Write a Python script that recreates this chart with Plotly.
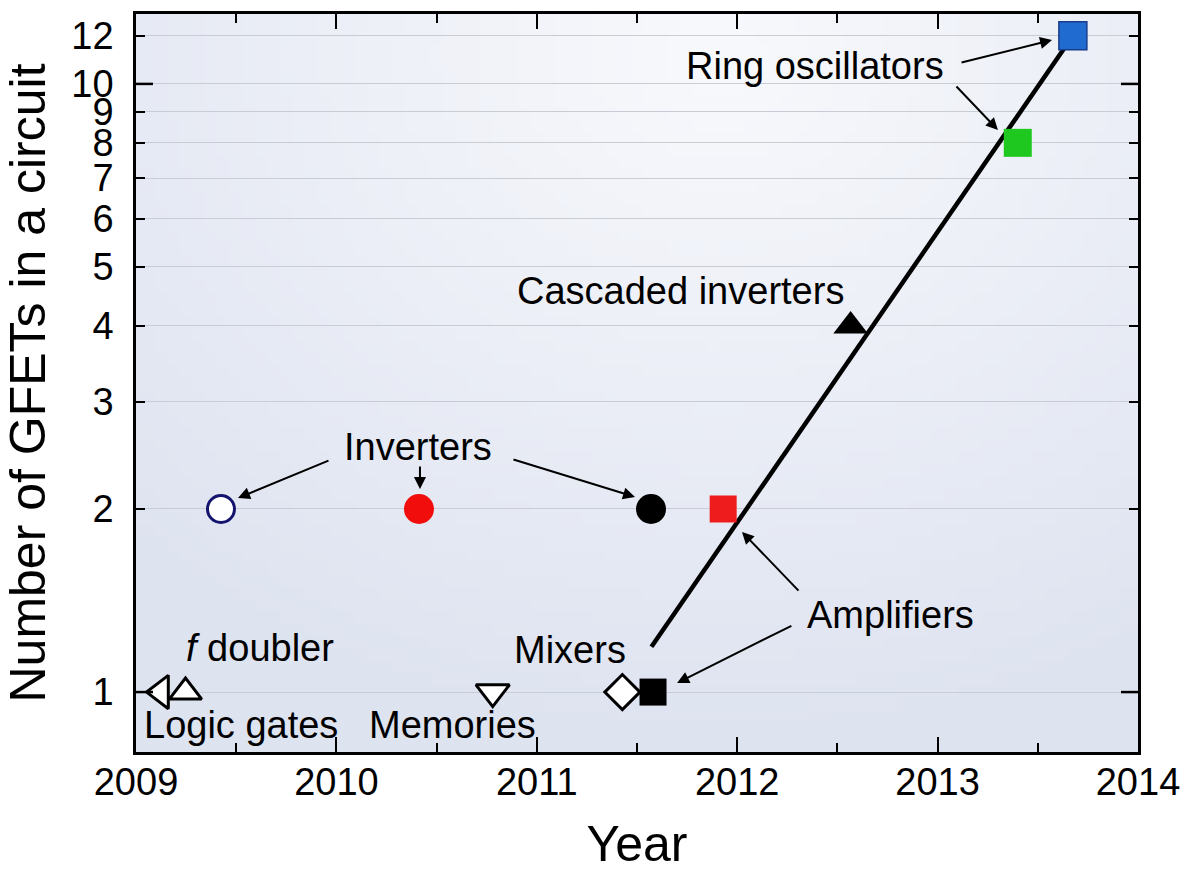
import base64
import struct
import zlib

import numpy as np
import plotly.graph_objects as go

# ---------------- data ----------------
devices = ["Logic gates", "f doubler", "Inverters", "Inverters", "Memories", "Mixers",
           "Inverters", "Amplifiers", "Amplifiers", "Cascaded inverters",
           "Ring oscillators", "Ring oscillators"]
years = [2009.125, 2009.247, 2009.424, 2010.412, 2010.78, 2011.427,
         2011.57, 2011.58, 2011.93, 2012.566, 2013.40, 2013.675]
gfets = [1, 1, 2, 2, 1, 1, 2, 1, 2, 4, 8, 12]

trend_years = [2011.572, 2013.675]
trend_gfets = [1.187, 12]

y_tickvals = [1, 2, 3, 4, 5, 6, 7, 8, 9, 10, 12]
x_tickvals = [2009, 2010, 2011, 2012, 2013, 2014]

label_text = ["Ring oscillators", "Cascaded inverters", "Inverters", "Amplifiers",
              "Mixers", "<i>f</i> doubler", "Logic gates", "Memories"]
label_x = [2012.388, 2011.715, 2010.407, 2012.767, 2011.166, 2009.619, 2009.524, 2010.577]
label_y = [10.7, 4.566, 2.53, 1.339, 1.172, 1.181, 0.8824, 0.8824]

arrow_tail_x = [2013.112, 2013.087, 2009.968, 2010.417, 2010.876, 2012.313, 2012.278]
arrow_tail_y = [10.83, 9.96, 2.408, 2.363, 2.416, 1.460, 1.289]
arrow_head_x = [2013.571, 2013.301, 2009.509, 2010.417, 2011.49, 2012.024, 2011.70]
arrow_head_y = [11.81, 8.40, 2.085, 2.157, 2.093, 1.834, 1.035]

# ---------------- styling ----------------
symbols = ["triangle-left", "triangle-up", "circle", "circle", "triangle-down", "diamond",
           "circle", "square", "square", "triangle-up", "square", "square"]
fills = ["white", "white", "white", "#f20d0d", "white", "white",
         "black", "black", "#ee1c1c", "black", "#1ec81e", "#1f6bd0"]
lines = ["black", "black", "#14146e", "#f20d0d", "black", "black",
         "black", "black", "#ee1c1c", "black", "#1ec81e", "#1a3c8c"]
line_w = [3, 3, 3, 0, 3, 3, 0, 0, 0, 0, 0, 1.5]
sizes = [29, 28, 27, 30, 29, 27, 30, 27, 27, 30, 28, 28]

FONT = "Liberation Sans, Arial, sans-serif"


def gradient_uri(w=80, h=60):
    c_light = np.array([248, 249, 252])
    c_dark = np.array([222, 227, 240])
    rows = []
    for j in range(h):
        v = j / (h - 1)
        row = bytearray(b"\x00")
        for i in range(w):
            u = i / (w - 1)
            d = np.hypot((u - 0.58) * 1.0, (v - 0.05) * 0.9)
            t = min(1.0, d / 0.85)
            c = c_light + (c_dark - c_light) * t
            row += bytes(int(round(x)) for x in c)
        rows.append(bytes(row))
    raw = b"".join(rows)

    def chunk(tag, data):
        out = struct.pack(">I", len(data)) + tag + data
        return out + struct.pack(">I", zlib.crc32(tag + data) & 0xFFFFFFFF)

    png = (b"\x89PNG\r\n\x1a\n"
           + chunk(b"IHDR", struct.pack(">IIBBBBB", w, h, 8, 2, 0, 0, 0))
           + chunk(b"IDAT", zlib.compress(raw))
           + chunk(b"IEND", b""))
    return "data:image/png;base64," + base64.b64encode(png).decode()


fig = go.Figure()

fig.add_trace(go.Scatter(
    x=trend_years, y=trend_gfets, mode="lines",
    line=dict(color="black", width=4.5), hoverinfo="skip", showlegend=False))

fig.add_trace(go.Scatter(
    x=years, y=gfets, mode="markers", text=devices, showlegend=False,
    marker=dict(symbol=symbols, size=sizes, color=fills, opacity=1,
                line=dict(color=lines, width=line_w))))

for t, x, y in zip(label_text, label_x, label_y):
    fig.add_annotation(x=x, y=np.log10(y), xref="x", yref="y", text=t,
                       showarrow=False, xanchor="center", yanchor="middle",
                       font=dict(family=FONT, size=38, color="black"))

for tx, ty, hx, hy in zip(arrow_tail_x, arrow_tail_y, arrow_head_x, arrow_head_y):
    fig.add_annotation(x=hx, y=np.log10(hy), ax=tx, ay=np.log10(ty),
                       xref="x", yref="y", axref="x", ayref="y", text="",
                       showarrow=True, arrowhead=2, arrowsize=1.2, arrowwidth=2,
                       arrowcolor="black")

# longer ticks at 1 and 10 (left and right)
for yv in [1, 10]:
    fig.add_shape(type="line", xref="x", xsizemode="pixel", xanchor=2009, x0=0, x1=17,
                  yref="y", y0=yv, y1=yv, line=dict(color="black", width=2.5))
    fig.add_shape(type="line", xref="x", xsizemode="pixel", xanchor=2014, x0=-17, x1=0,
                  yref="y", y0=yv, y1=yv, line=dict(color="black", width=2.5))

fig.add_layout_image(dict(source=gradient_uri(), xref="paper", yref="paper", x=0, y=1,
                          sizex=1, sizey=1, sizing="stretch", xanchor="left",
                          yanchor="top", layer="below"))

fig.update_layout(
    width=1182, height=872,
    margin=dict(l=136, r=44, t=14, b=120, autoexpand=False),
    paper_bgcolor="white", plot_bgcolor="rgba(0,0,0,0)",
    font=dict(family=FONT, color="black"),
    xaxis=dict(
        range=[2009, 2014], tickvals=x_tickvals, ticks="inside", ticklen=15, tickwidth=2,
        tickcolor="black", showline=True, linecolor="black", linewidth=2.5,
        mirror="ticks", showgrid=False, zeroline=False, automargin=False,
        tickfont=dict(size=38, family=FONT), ticklabelstandoff=-5,
        ticklabeloverflow="allow",
        minor=dict(dtick=0.5, ticks="inside", ticklen=9, tickwidth=2, tickcolor="black",
                   showgrid=False),
        title=dict(text="Year", font=dict(size=50, family=FONT), standoff=56),
    ),
    yaxis=dict(
        type="log", range=[np.log10(0.797), np.log10(13.03)], tickvals=y_tickvals,
        ticktext=[str(v) for v in y_tickvals], ticks="inside", ticklen=9, tickwidth=2,
        tickcolor="black", showline=True, linecolor="black", linewidth=2.5,
        mirror="ticks", showgrid=True, gridcolor="#c8ccd5", gridwidth=1, zeroline=False,
        automargin=False,
        tickfont=dict(size=38, family=FONT), ticklabelstandoff=12,
        title=dict(text="Number of GFETs in a circuit", font=dict(size=50, family=FONT),
                   standoff=12),
    ),
)

# remove the browser's default page margin so the figure fills the window exactly
fig.write_html("out.html", config={"displayModeBar": False},
               post_script="document.body.style.margin='0';")
